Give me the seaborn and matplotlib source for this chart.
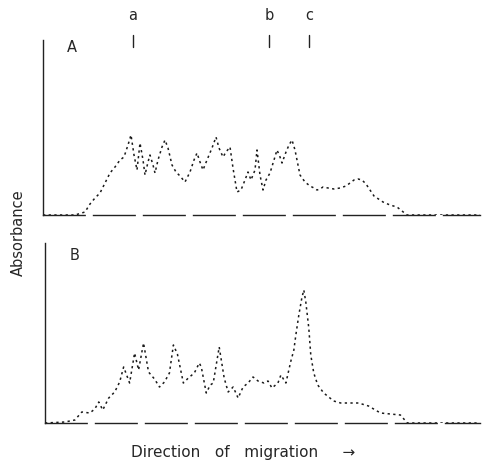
import matplotlib
matplotlib.use("Agg")
import matplotlib.pyplot as plt
import seaborn as sns
import pandas as pd

# Panel A trace: migration distance (arbitrary units) vs absorbance (arbitrary units)
dist_a = [0, 32, 42, 47, 52, 57, 62, 67, 72, 77, 81, 85, 88, 91, 94, 97, 100, 102, 105, 107,
          110, 112, 115, 119, 122, 125, 129, 133, 137, 142, 147, 151, 154, 157, 160, 164, 169,
          173, 176, 180, 183, 187, 190, 194, 198, 202, 205, 208, 212, 214, 217, 220, 223, 227,
          231, 234, 237, 239, 243, 246, 249, 252, 255, 257, 262, 267, 271, 274, 277, 280, 285,
          291, 297, 303, 307, 311, 315, 319, 323, 327, 331, 334, 340, 347, 354, 359, 364, 437]
abs_a = [0, 0, 3, 11, 17, 22, 32, 42, 48, 55, 58, 70, 80, 60, 45, 72, 55, 40, 53, 60,
         50, 42, 55, 68, 75, 67, 50, 43, 39, 33, 43, 55, 62, 53, 45, 55, 67,
         78, 67, 58, 63, 68, 47, 23, 25, 35, 43, 35, 45, 65, 40, 25, 35, 42,
         55, 65, 58, 52, 63, 70, 75, 65, 50, 40, 33, 29, 27, 25, 26, 28, 27,
         26, 27, 29, 32, 35, 36, 35, 31, 25, 19, 17, 13, 10, 8, 4, 0, 0]

# Panel B trace
dist_b = [0, 20, 30, 37, 45, 50, 54, 58, 64, 70, 75, 79, 85, 90, 94, 99, 104, 110, 115, 120,
          125, 129, 133, 139, 144, 150, 155, 157, 162, 166, 169, 175, 180, 184, 189, 194, 199,
          204, 209, 214, 220, 224, 228, 234, 237, 242, 247, 250, 252, 255, 258, 260, 262, 265,
          267, 270, 274, 280, 290, 297, 305, 315, 325, 337, 347, 357, 364, 437]
abs_b = [0, 1, 3, 11, 10, 14, 21, 13, 25, 31, 41, 56, 40, 70, 53, 80, 51, 44, 36, 41,
         50, 78, 69, 40, 45, 50, 60, 56, 30, 38, 40, 76, 45, 31, 36, 25, 36,
         40, 46, 42, 40, 42, 35, 40, 48, 40, 62, 73, 88, 108, 125, 133, 121, 95,
         68, 50, 38, 30, 22, 20, 20, 20, 17, 10, 9, 8, 0, 0]

markers = ["a", "b", "c"]
marker_pos = [90, 226, 266]

sns.set_style("white")
plt.rcParams['font.family'] = ['DejaVu Sans']

W, H = 487, 463
fig = plt.figure(figsize=(W / 100, H / 100), dpi=100)

def fx(px):
    return px / W

def fy(py):
    return 1 - py / H

axA = fig.add_axes([fx(43), fy(215), fx(480) - fx(43), fy(40) - fy(215)])
axB = fig.add_axes([fx(45), fy(423), fx(480) - fx(45), fy(243) - fy(423)])

dfA = pd.DataFrame({"dist": dist_a, "abs": abs_a})
dfB = pd.DataFrame({"dist": dist_b, "abs": abs_b})

line_kw = dict(color="#1a1a1a", linewidth=1.1, linestyle=(0, (1.5, 2.2)))
sns.lineplot(data=dfA, x="dist", y="abs", ax=axA, sort=False, **line_kw)
sns.lineplot(data=dfB, x="dist", y="abs", ax=axB, sort=False, **line_kw)

for ax, top in ((axA, 175), (axB, 180)):
    ax.set_xlim(0, 437)
    ax.set_ylim(0, top)
    ax.set_xticks([])
    ax.set_yticks([])
    ax.set_xlabel("")
    ax.set_ylabel("")
    for s in ("top", "right"):
        ax.spines[s].set_visible(False)
    ax.spines["left"].set_linewidth(1.0)
    ax.spines["bottom"].set_linewidth(1.0)
    ax.spines["left"].set_color("#222222")
    ax.spines["bottom"].set_color("#222222")
    ax.spines["bottom"].set_linestyle((0, (30, 6)))

axA.text(29, 168, "A", fontsize=10.5, ha="center", va="center")
axB.text(30, 168, "B", fontsize=10.5, ha="center", va="center")

for lab, pos in zip(markers, marker_pos):
    axA.plot([pos, pos], [168, 180], color="#222222", linewidth=1.0, clip_on=False)
    axA.text(pos, 200, lab, fontsize=10.5, ha="center", va="center", clip_on=False)

fig.text(fx(18), fy(233), "Absorbance", rotation=90, fontsize=10.5, ha="center", va="center")
fig.text(fx(243), fy(452), "Direction   of   migration     \u2192", fontsize=11, ha="center", va="center")

fig.savefig("out.png", dpi=100, facecolor="white")
